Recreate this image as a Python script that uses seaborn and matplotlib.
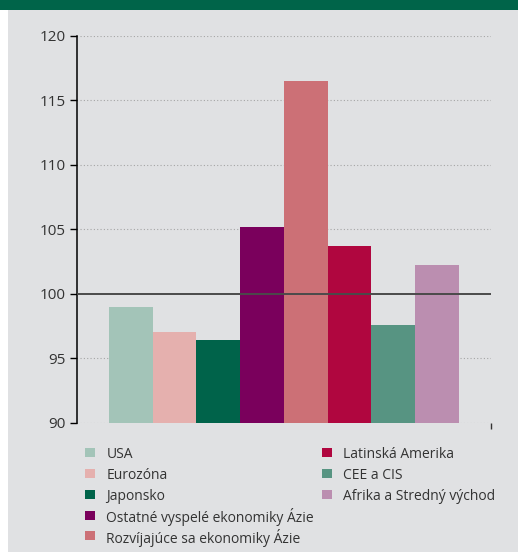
import matplotlib
matplotlib.use("Agg")
import matplotlib.pyplot as plt
import matplotlib.patches as mpatches
import seaborn as sns
import pandas as pd

# Regions and index values (base = 100)
regions = [
    "USA",
    "Eurozóna",
    "Japonsko",
    "Ostatné vyspelé ekonomiky Ázie",
    "Rozvíjajúce sa ekonomiky Ázie",
    "Latinská Amerika",
    "CEE a CIS",
    "Afrika a Stredný východ",
]
values = [99.0, 97.0, 96.4, 105.2, 116.5, 103.7, 97.6, 102.2]
colors = ["#a3c4b8", "#e5b0ae", "#00634a", "#7a005c",
          "#cc7076", "#b0063f", "#579482", "#bb8eb0"]
yticks = [90, 95, 100, 105, 110, 115, 120]

BG = "#e0e1e3"
BANNER = "#006449"
TEXT = "#333333"
W, H = 518, 556

sns.set_theme(style="white")
plt.rcParams["font.family"] = ["Open Sans", "DejaVu Sans"]

fig = plt.figure(figsize=(W / 100, H / 100), dpi=100)
fig.patch.set_facecolor("white")


def fx(px):
    return px / W


def fy(py):
    return 1 - py / H


# Grey panel and green banner strip
fig.add_artist(mpatches.Rectangle((fx(8), fy(552)), 1 - fx(8), (552 - 10) / H,
                                  transform=fig.transFigure, facecolor=BG,
                                  edgecolor="none", zorder=-10))
fig.add_artist(mpatches.Rectangle((0, fy(10)), 1, 10 / H,
                                  transform=fig.transFigure, facecolor=BANNER,
                                  edgecolor="none", zorder=-10))

ax = fig.add_axes([fx(77), fy(422.7), (490.7 - 77) / W, (422.7 - 35.5) / H])
ax.set_facecolor("none")

df = pd.DataFrame({"region": regions, "value": values})
sns.barplot(data=df, x="region", y="value", hue="region", palette=colors,
            order=regions, hue_order=regions, width=1.0, legend=False,
            saturation=1, ax=ax, zorder=2, linewidth=0)

ax.set_ylim(90, 120)
ax.set_xlim(-1.234, 8.234)
ax.set_yticks(yticks)
ax.set_yticklabels([str(t) for t in yticks])

# Dotted gridlines, solid reference line at 100
for t in yticks:
    if t == 100:
        continue
    ax.axhline(t, xmin=0.008, xmax=1, color="#a5a5a5", linestyle=(0, (1, 2)),
               linewidth=0.8, zorder=1)
ax.axhline(100, color="#4a4a4a", linewidth=1.4, zorder=3)

for s in ["top", "right", "bottom"]:
    ax.spines[s].set_visible(False)
ax.spines["left"].set_color("black")
ax.spines["left"].set_linewidth(1.1)

ax.set_xticks([ax.get_xlim()[1]])
ax.set_xticklabels([""])
ax.tick_params(axis="x", direction="out", length=4, width=1, color="#333333", bottom=True)
ax.tick_params(axis="y", direction="out", length=5, width=1, color="black", left=True,
               labelsize=11, labelcolor=TEXT, pad=3)
ax.set_xlabel("")
ax.set_ylabel("")

# Legend: five entries in the first column, three in the second
row_y = [452.8, 473.5, 494.3, 515.1, 535.9]
col_x = [(85, 106.5), (322, 343.3)]
for i, (name, color) in enumerate(zip(regions, colors)):
    col = 0 if i < 5 else 1
    row = i if i < 5 else i - 5
    mx, tx = col_x[col]
    cy = row_y[row]
    fig.add_artist(mpatches.Rectangle((fx(mx), fy(cy + 4.5)), 10 / W, 9 / H,
                                      transform=fig.transFigure, facecolor=color,
                                      edgecolor="none"))
    fig.text(fx(tx), fy(cy), name, ha="left", va="center_baseline",
             fontsize=10, color=TEXT)

fig.savefig("out.png", dpi=100, facecolor=fig.get_facecolor())
